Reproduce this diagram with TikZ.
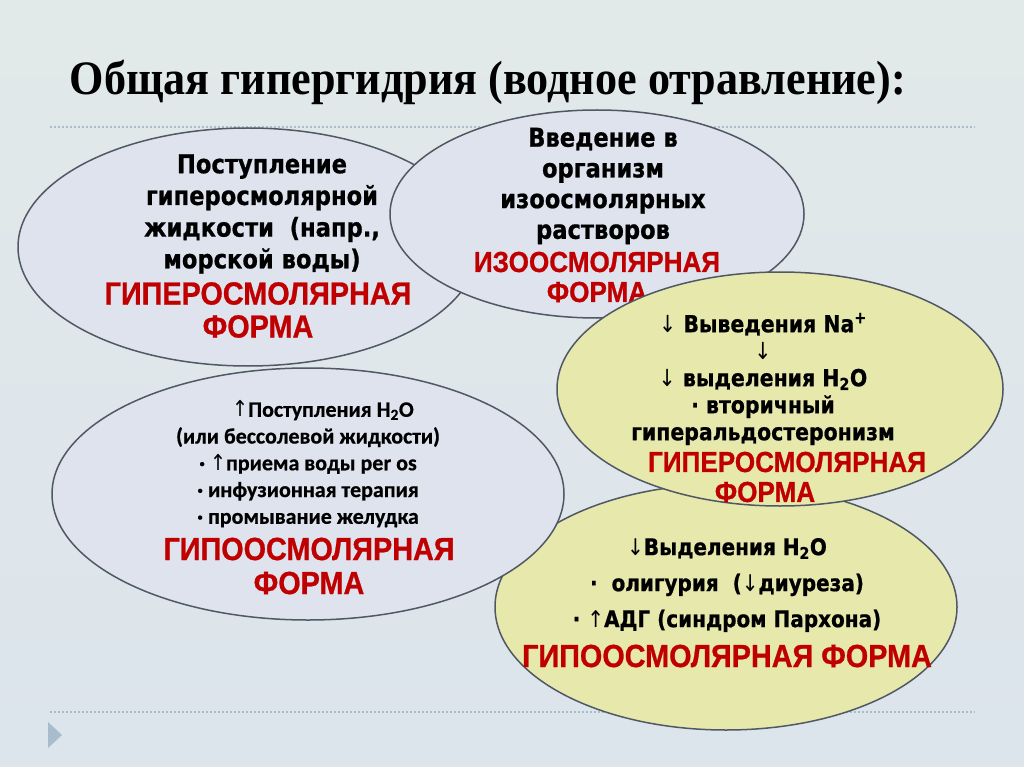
\documentclass[tikz,border=0pt]{standalone}
\usepackage{fontspec}
\newfontfamily\vfont{DejaVu Sans}[FakeStretch=0.87, BoldFeatures={FakeBold=0.7}]
\newfontfamily\cfont{Carlito}[BoldFeatures={FakeBold=0.6}]
\newfontfamily\rfont{Liberation Sans}[FakeStretch=0.9, BoldFeatures={FakeBold=0.8}]
\newfontfamily\tfont{Liberation Serif}[FakeStretch=0.92]
\usetikzlibrary{positioning, shapes.geometric}
\definecolor{bgtop}{RGB}{226,233,233}
\definecolor{bgbot}{RGB}{220,228,236}
\definecolor{blobblue}{RGB}{222,227,238}
\definecolor{blobyellow}{RGB}{230,232,172}
\definecolor{rimgray}{RGB}{80,88,100}
\definecolor{formred}{RGB}{192,0,0}
\definecolor{rulegray}{RGB}{168,188,204}
\tikzset{blob/.style={ellipse, draw=rimgray, line width=1.5pt, inner sep=0}}
\tikzset{blk/.style 2 args={align=center, inner sep=0, font=\vfont\bfseries\fontsize{#1}{#2}\selectfont}}
\tikzset{calib/.style 2 args={align=center, inner sep=0, font=\cfont\bfseries\fontsize{#1}{#2}\selectfont}}
\tikzset{form/.style 2 args={align=center, inner sep=0, text=formred, font=\rfont\bfseries\fontsize{#1}{#2}\selectfont}}
\tikzset{rule/.style={draw=rulegray, line width=1.2pt, dash pattern=on 2pt off 2pt}}
\newcommand{\dn}{{\vfont\mdseries↓}}
\newcommand{\arup}{{\vfont\mdseries↑}}
\begin{document}
\begin{tikzpicture}[x=1pt, y=-1pt]
	\useasboundingbox (0,0) rectangle (1024,767);
	\shade[top color=bgtop, bottom color=bgbot] (0,0) rectangle (1024,767);
	% title and rules
	\node[anchor=base, inner sep=0, font=\tfont\bfseries\fontsize{48}{52}\selectfont] (title) at (488,95)
		{Общая гипергидрия (водное отравление):};
	\coordinate (ruleTL) at (50,127);
	\coordinate (ruleTR) at (975,127);
	\coordinate (ruleBL) at (50,712);
	\coordinate (ruleBR) at (975,712);
	\draw[rule] (ruleTL) -- (ruleTR);
	\draw[rule] (ruleBL) -- (ruleBR);
	\fill[rulegray] (48,722) -- (62,735) -- (48,748) -- cycle;
	%
	\node[blob, fill=blobblue, minimum width=460, minimum height=238] (hyperIn) at (248,247) {};
	\node[blk={26}{31.7}] (hyperInTxt) at (262,214)
		{Поступление\\гиперосмолярной\\жидкости~ (напр.,\\морской воды)};
	\node[form={32}{33}] (hyperInForm) at (258,310) {ГИПЕРОСМОЛЯРНАЯ\\ФОРМА};
	%
	\node[blob, fill=blobblue, minimum width=414, minimum height=208] (isoIn) at (597,214) {};
	\node[blk={26}{30.7}] (isoInTxt) at (603,186)
		{Введение в\\организм\\изоосмолярных\\растворов};
	\node[form={29}{30}] (isoInForm) at (597,277) {ИЗООСМОЛЯРНАЯ\\ФОРМА};
	%
	\node[blob, fill=blobyellow, minimum width=462, minimum height=246] (oligo) at (726,607) {};
	\node[blk={23}{36}] (oligoTxt) at (727,585)
		{\dn Выделения H\textsubscript{2}O\\·~ олигурия~ (\dn диуреза)\\· \arup АДГ (синдром Пархона)};
	\node[form={32}{33}] (oligoForm) at (727,656) {ГИПООСМОЛЯРНАЯ ФОРМА};
	%
	\node[blob, fill=blobyellow, minimum width=446, minimum height=234] (aldo) at (780,389) {};
	\node[blk={23.5}{27}] (aldoTxt) at (763,379)
		{\dn{} Выведения Na\textsuperscript{+}\\\dn\\\dn{} выделения H\textsubscript{2}O\\· вторичный\\гиперальдостеронизм};
	\node[form={29}{30}] (aldoForm) at (787,477) {ГИПЕРОСМОЛЯРНАЯ\\ФОРМА\hspace*{44pt}};
	%
	\node[blob, fill=blobblue, minimum width=512, minimum height=252] (hypoIn) at (308,494) {};
	\node[calib={22}{26.75}] (hypoInTxt) at (308,464)
		{\hspace*{30pt}\arup Поступления H\textsubscript{2}O\\(или бессолевой жидкости)\\· \arup приема воды per os\\· инфузионная терапия\\· промывание желудка};
	\node[form={32}{34}] (hypoInForm) at (309,566) {ГИПООСМОЛЯРНАЯ\\ФОРМА};
\end{tikzpicture}
\end{document}
